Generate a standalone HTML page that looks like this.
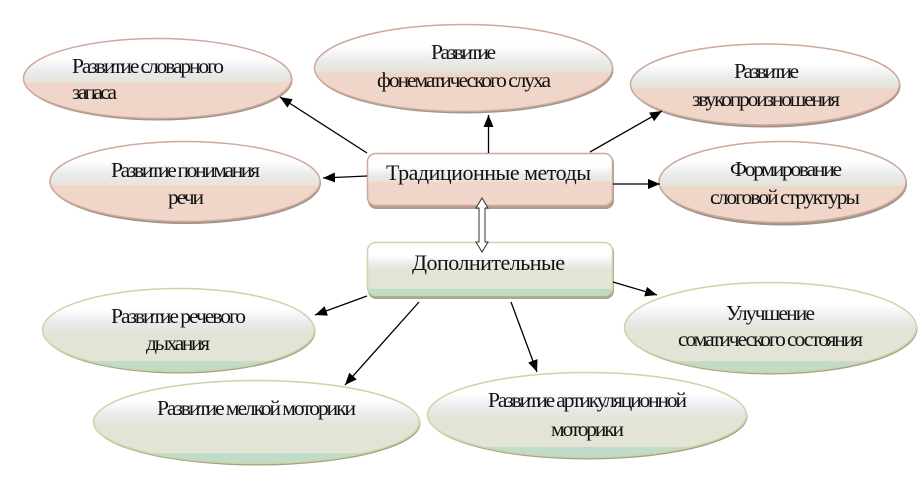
<!DOCTYPE html>
<html><head><meta charset="utf-8"><style>
html,body{margin:0;padding:0;background:#fff;width:922px;height:494px;overflow:hidden}
svg{display:block}
text{font-family:"Liberation Serif","Noto Serif CJK SC",serif;font-size:21.500px;fill:#111}
text.b{font-size:22px}
</style></head><body>
<svg width="922" height="494" viewBox="0 0 922 494" xmlns="http://www.w3.org/2000/svg">
<defs>
<linearGradient id="r" x1="0" y1="0" x2="0" y2="1">
<stop offset="0" stop-color="#fff"/><stop offset=".24" stop-color="#fff"/><stop offset=".42" stop-color="#e9eaea"/><stop offset=".54" stop-color="#e5e5da"/><stop offset=".555" stop-color="#efd6c8"/><stop offset="1" stop-color="#efd6c8"/>
</linearGradient>
<linearGradient id="g" x1="0" y1="0" x2="0" y2="1">
<stop offset="0" stop-color="#fff"/><stop offset=".24" stop-color="#fff"/><stop offset=".42" stop-color="#e9eaea"/><stop offset=".54" stop-color="#e4e4d6"/><stop offset=".87" stop-color="#e4e4d6"/><stop offset=".88" stop-color="#bfdcc8"/><stop offset="1" stop-color="#bfdcc8"/>
</linearGradient>
<marker id="a" viewBox="0 0 10 10" refX="10" refY="5" markerWidth="12" markerHeight="10" markerUnits="userSpaceOnUse" orient="auto" preserveAspectRatio="none"><path d="M0 0L10 5L0 10Z" fill="#000"/></marker>
</defs>

<g fill="#a09488">
<ellipse cx="158.500" cy="80" rx="134" ry="40.500"/>
<ellipse cx="464.500" cy="70" rx="149" ry="43.500"/>
<ellipse cx="766" cy="86" rx="134.500" ry="41.500"/>
<ellipse cx="186" cy="183" rx="135" ry="41"/>
<ellipse cx="783.500" cy="184" rx="123.500" ry="41.500"/>
</g>
<g fill="#a0a286">
<ellipse cx="179.500" cy="331.500" rx="136" ry="42"/>
<ellipse cx="257.500" cy="423.500" rx="163" ry="42"/>
<ellipse cx="588" cy="416.500" rx="159.500" ry="43"/>
<ellipse cx="771.500" cy="329" rx="146" ry="45.500"/>
</g>
<g fill="url(#r)" stroke="#cfa79b" stroke-width="1.500">
<ellipse cx="157.500" cy="78.500" rx="134" ry="40"/>
<ellipse cx="463.500" cy="68" rx="149" ry="43.500"/>
<ellipse cx="765" cy="84.500" rx="134.500" ry="40.500"/>
<ellipse cx="185" cy="181.500" rx="135" ry="40"/>
<ellipse cx="782.500" cy="182" rx="123.500" ry="40.500"/>
</g>
<g fill="url(#g)" stroke="#d0d2a8" stroke-width="1.500">
<ellipse cx="178.500" cy="330" rx="136" ry="41.500"/>
<ellipse cx="256.500" cy="422" rx="163" ry="41.500"/>
<ellipse cx="587" cy="415" rx="159.500" ry="42.500"/>
<ellipse cx="770.500" cy="327.500" rx="146" ry="45"/>
</g>

<rect x="368" y="155" width="246" height="54" rx="8" fill="#b59a90"/>
<rect x="367.500" y="153.500" width="245" height="52" rx="8" fill="url(#r)" stroke="#cfa79b" stroke-width="1.500"/>
<rect x="368" y="244" width="246" height="55" rx="8" fill="#a6a98c"/>
<rect x="367.500" y="242.500" width="245" height="53" rx="8" fill="url(#g)" stroke="#d0d2a8" stroke-width="1.500"/>

<g stroke="#000" stroke-width="1.300" marker-end="url(#a)" fill="none">
<line x1="367" y1="153" x2="280" y2="97"/>
<line x1="367" y1="176" x2="323" y2="178"/>
<line x1="488.500" y1="153" x2="488.500" y2="115"/>
<line x1="590" y1="152" x2="662" y2="111"/>
<line x1="613" y1="184" x2="660" y2="184"/>
<line x1="367" y1="296" x2="315" y2="315"/>
<line x1="419" y1="302" x2="345" y2="385"/>
<line x1="511" y1="302" x2="537" y2="372"/>
<line x1="613" y1="282" x2="657" y2="295"/>
</g>
<path d="M482 198L488 208H485V242H488L482 252L476 242H479V208H476Z" fill="#fff" stroke="#333" stroke-width="1"/>

<text x="72" y="73" textLength="152">Развитие словарного</text>
<text x="72" y="99" textLength="45">запаса</text>
<text x="111" y="177" textLength="149">Развитие понимания</text>
<text x="168" y="204" textLength="36">речи</text>
<text x="431" y="59" textLength="65">Развитие</text>
<text x="377" y="87" textLength="174">фонематического слуха</text>
<text x="734" y="78" textLength="65">Развитие</text>
<text x="692" y="106" textLength="148">звукопроизношения</text>
<text x="730" y="176" textLength="112">Формирование</text>
<text x="710" y="204" textLength="150">слоговой структуры</text>
<text class="b" x="386" y="180" textLength="205">Традиционные методы</text>
<text class="b" x="412" y="270" textLength="153">Дополнительные</text>
<text x="111" y="323" textLength="135">Развитие речевого</text>
<text x="146" y="350" textLength="64">дыхания</text>
<text x="157" y="415" textLength="199">Развитие мелкой моторики</text>
<text x="488" y="407" textLength="199">Развитие артикуляционной</text>
<text x="551" y="436" textLength="73">моторики</text>
<text x="726" y="320" textLength="89">Улучшение</text>
<text x="678" y="346" textLength="185">соматического состояния</text>
</svg>
</body></html>
